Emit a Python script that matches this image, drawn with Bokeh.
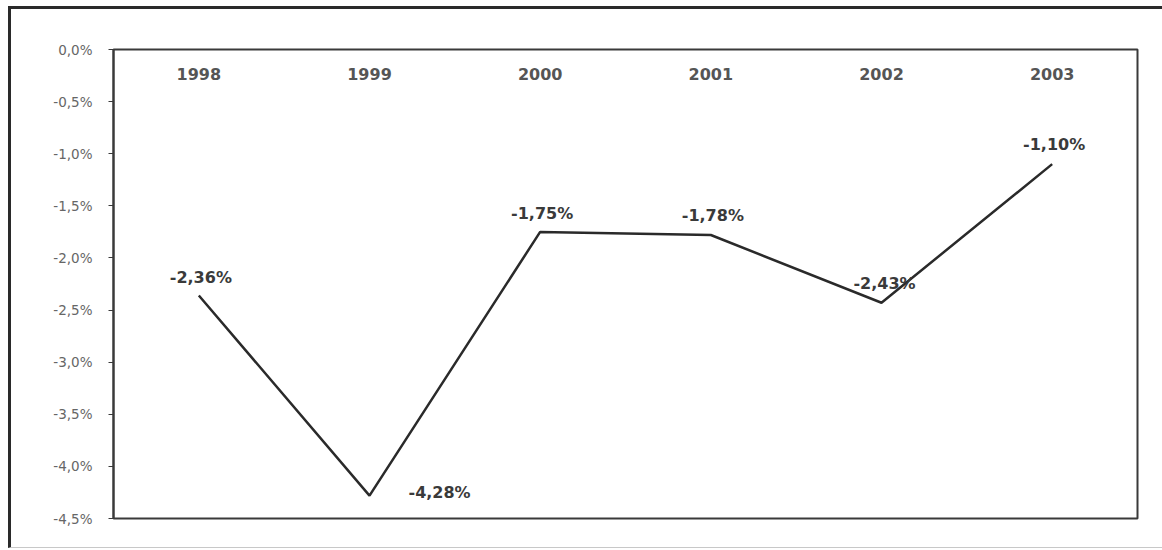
from bokeh.plotting import figure
from bokeh.models import FactorRange, Range1d, FixedTicker, ColumnDataSource, InlineStyleSheet
from bokeh.core.properties import value
from bokeh.embed import file_html
from bokeh.resources import INLINE

years = ["1998", "1999", "2000", "2001", "2002", "2003"]
values = [-2.36, -4.28, -1.75, -1.78, -2.43, -1.10]
value_labels = ["-2,36%", "-4,28%", "-1,75%", "-1,78%", "-2,43%", "-1,10%"]
y_ticks = [0.0, -0.5, -1.0, -1.5, -2.0, -2.5, -3.0, -3.5, -4.0, -4.5]
y_tick_labels = ["0,0%", "-0,5%", "-1,0%", "-1,5%", "-2,0%", "-2,5%", "-3,0%", "-3,5%", "-4,0%", "-4,5%"]

# label placement (screen px offsets)
label_dx = [2, 39, 2, 2, 3, 2]
label_dy = [-18, -3, -18, -20, -19, -20]
label_align = ["center", "left", "center", "center", "center", "center"]

FONT = "DejaVu Sans"

p = figure(width=1162, height=550, x_range=FactorRange(*years), y_range=Range1d(-4.5, 0.0),
           output_backend="svg", toolbar_location=None,
           min_border_left=113, min_border_top=49, min_border_right=25, min_border_bottom=32)
p.background_fill_color = "white"
p.border_fill_color = "white"
p.outline_line_color = "#3a3a3a"
p.outline_line_width = 2
p.xgrid.visible = False
p.ygrid.visible = False
p.xaxis.visible = False

# outer frame around the whole chart (open on the right, faint at the bottom)
p.stylesheets = [InlineStyleSheet(css="""
:host { position: relative; }
:host::after {
  content: "";
  position: absolute;
  left: 8px; top: 6px; right: 0px; bottom: 2px;
  border-left: 3px solid #2a2a2a;
  border-top: 3px solid #2a2a2a;
  border-bottom: 1.5px solid #c8c8c8;
  pointer-events: none;
  z-index: 1000;
}
""")]

ya = p.yaxis[0]
ya.ticker = FixedTicker(ticks=y_ticks)
ya.major_label_overrides = {t: l for t, l in zip(y_ticks, y_tick_labels)}
ya.axis_line_color = "#3a3a3a"
ya.axis_line_width = 2
ya.major_tick_line_color = "#3a3a3a"
ya.major_tick_out = 5
ya.major_tick_in = 0
ya.minor_tick_line_color = None
ya.major_label_standoff = 16
ya.major_label_text_font = FONT
ya.major_label_text_font_size = "13.5px"
ya.major_label_text_color = "#666666"

# category labels inside the frame, just below the zero line
p.text(x=years, y=[0.0] * len(years), text=years, y_offset=24,
       text_align="center", text_baseline="middle",
       text_font=value(FONT), text_font_size="16px", text_font_style="bold",
       text_color="#555555")

p.line(x=years, y=values, line_color="#2a2a2a", line_width=2.5)

src = ColumnDataSource(dict(x=years, y=values, t=value_labels, dx=label_dx, dy=label_dy, al=label_align))
p.text(x="x", y="y", text="t", x_offset="dx", y_offset="dy", text_align="al",
       text_baseline="middle", source=src,
       text_font=value(FONT), text_font_size="16px", text_font_style="bold",
       text_color="#3a3a3a")

open("out.html", "w").write(file_html(p, INLINE))
